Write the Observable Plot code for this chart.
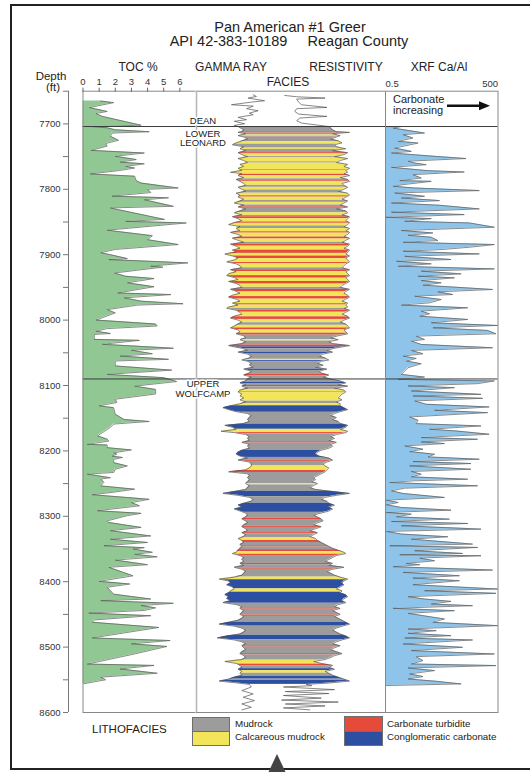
<!DOCTYPE html>
<html><head><meta charset="utf-8">
<script src="https://cdn.jsdelivr.net/npm/d3@7"></script>
<script src="https://cdn.jsdelivr.net/npm/@observablehq/plot@0.6"></script>
<style>
body{margin:0;background:#fff;width:530px;height:772px;overflow:hidden;position:relative;font-family:"Liberation Sans",Arial,sans-serif;color:#222}
.t{position:absolute;white-space:pre;line-height:1}
#frame{position:absolute;left:10px;top:4px;width:600px;height:766px;border:2.5px solid #222;box-sizing:border-box}
.box{position:absolute;box-sizing:border-box;border:1px solid #6f6f6f}
</style></head><body>
<div id="frame"></div>
<script>
// ---------- DATA ----------
const depthDomain = [7650, 8600];
const depthTicks = [7650,7700,7750,7800,7850,7900,7950,8000,8050,8100,8150,8200,8250,8300,8350,8400,8450,8500,8550,8600];
const depthLabels = ["7700","7800","7900","8000","8100","8200","8300","8400","8500","8600"];
const tocTicks = [0,1,2,3,4,5,6];
const tocDomain = [0, 7];
const xrfTicks = [0.5, 500];
const formationTops = [7704, 8090];   // Lower Leonard, Upper Wolfcamp
const faciesBase = 8557;

// TOC % [depth, value]
const toc = [[7665,1.1],[7667.5,1.9],[7675,0.4],[7681,1.5],[7684,0.8],[7688.5,1.2],[7702,3.6],[7704,0.5],[7706,1.5],[7709,2.0],[7712,4.1],[7714,1.8],[7719,1.7],[7725,2.2],[7730,1.4],[7734,1.5],[7740.5,0.5],[7744.5,3.8],[7749.5,2.0],[7754.5,3.3],[7758.5,2.3],[7761,3.8],[7765,2.65],[7767.5,3.2],[7771.5,2.2],[7776.5,0.45],[7780,3.2],[7787,3.3],[7790.5,3.6],[7798,5.9],[7800,4.0],[7805,4.2],[7810.5,1.8],[7813,5.3],[7816,3.8],[7826,5.6],[7828.5,1.7],[7833.5,2.65],[7846,5.05],[7849,2.65],[7851.5,6.4],[7862.5,1.5],[7871,4.3],[7877,4.0],[7884.5,5.9],[7892,2.0],[7897,1.1],[7900,1.7],[7906,2.75],[7907.5,1.6],[7912.5,6.5],[7917.5,4.2],[7919,4.95],[7928,1.95],[7933,2.65],[7936.5,4.4],[7943,2.75],[7949,4.4],[7958.5,2.15],[7961,5.45],[7966,2.55],[7971,3.6],[7975,6.2],[7977,3.4],[7984,1.5],[7989,2.0],[8000,0.8],[8006,4.5],[8009,4.6],[8013,1.5],[8017,0.8],[8020.5,1.7],[8022,0.7],[8029.5,0.7],[8031,3.5],[8037,1.2],[8043,5.6],[8046,3.0],[8051.5,4.3],[8055,2.3],[8060,5.3],[8062.5,2.0],[8070,2.0],[8076.5,5.5],[8083,1.5],[8088,5.0],[8094,5.8],[8101,3.2],[8106,4.5],[8113,4.5],[8121,2.0],[8126,2.1],[8131,1.0],[8134,1.9],[8144,2.0],[8152,2.55],[8155,4.1],[8159,1.9],[8164,1.7],[8177,0.9],[8182,1.5],[8185,1.6],[8190,0.26],[8191,1.5],[8195,1.5],[8198.5,3.0],[8203,1.9],[8205,2.1],[8208,1.8],[8210,2.45],[8213,1.9],[8218,1.9],[8223,2.75],[8228,2.0],[8233,1.9],[8235.5,0.26],[8241,1.7],[8243,1.1],[8248,1.3],[8253.5,1.1],[8258.5,3.2],[8263.5,1.8],[8267,0.57],[8274,4.1],[8279,3.0],[8284,3.5],[8291.5,0.9],[8295.5,3.6],[8299,2.75],[8307,1.5],[8309.5,1.6],[8317,3.6],[8322,1.7],[8330,4.2],[8335,1.7],[8340,4.0],[8345,1.3],[8348,3.8],[8350,3.1],[8355,4.3],[8358,3.2],[8362,4.6],[8367,2.0],[8374,4.0],[8378,1.6],[8391,3.1],[8399.5,1.0],[8403.5,2.9],[8408.5,1.5],[8419,1.9],[8426.5,4.2],[8429,1.1],[8433,5.6],[8436.5,3.6],[8440,4.5],[8444,3.8],[8448,0.36],[8452,4.2],[8458.5,0.7],[8462,0.57],[8470,4.7],[8486,0.57],[8490,5.4],[8495,3.0],[8499,5.2],[8510.5,3.2],[8526,0.26],[8528,4.4],[8533.5,2.3],[8540,4.6],[8546,1.1],[8550,1.4],[8556,0.05]];

// XRF Ca/Al [depth, ratio]
const xrf = [[7704,1.33],[7706.4,0.8],[7714,5.5],[7716.5,1.47],[7721.6,2.7],[7726.7,1.09],[7729.3,3.7],[7737,0.88],[7742,2.45],[7744.5,0.72],[7749.6,10.2],[7753,70],[7757,2.0],[7759.8,3.0],[7762.4,6.1],[7766.4,0.72],[7771.5,6.8],[7773.5,63],[7777.6,2.7],[7782.7,4.5],[7786.8,1.2],[7787.8,8.3],[7792.9,1.47],[7795.4,0.8],[7798,3.0],[7802,159],[7805.6,0.88],[7810.7,5.5],[7813.3,1.33],[7817.3,13.8],[7820.9,0.72],[7824.4,13.8],[7830,159],[7835,0.72],[7838.7,63],[7842.8,0.5],[7844.8,8.3],[7848.9,1.63],[7851.4,86],[7858,400],[7863,1.33],[7866.7,9.2],[7870.3,2.0],[7873.3,8.3],[7878.4,12.5],[7881,1.47],[7884.5,400],[7888.6,86],[7892.2,15.3],[7894.7,1.47],[7898.8,159],[7902.4,1.63],[7907.4,28],[7910,0.98],[7914,8.3],[7917.6,1.09],[7921.7,400],[7925.2,4.5],[7929.3,52],[7932.9,3.7],[7935.4,34.5],[7939.5,4.5],[7943,15.3],[7946.6,5.0],[7953.2,360],[7956.8,12.5],[7960.9,31],[7963.4,3.0],[7968.5,15.3],[7973.6,7.5],[7977.1,1.33],[7981.2,78],[7986.3,4.5],[7990.4,7.5],[7994,4.1],[7999,78],[8004.1,8.3],[8008.2,490],[8011.8,9.2],[8015.8,265],[8020.9,440],[8024.5,3.3],[8029.6,5.5],[8032.1,2.45],[8037.2,4.5],[8042.3,360],[8046.4,2.45],[8051.5,5.0],[8055,1.47],[8058.6,3.3],[8062.7,1.8],[8066.7,4.5],[8072.8,2.0],[8077.9,1.63],[8083,1.33],[8087.1,5.5],[8090.7,1.09],
[8093,400],[8097.2,143],[8100.7,2.0],[8103.3,34.5],[8108.4,2.45],[8113.5,176],[8116,2.7],[8119.6,195],[8123.6,3.0],[8128.7,6.1],[8132.8,290],[8137.9,10.2],[8141.5,265],[8148.1,2.2],[8153.2,3.7],[8158.3,3.3],[8161.8,176],[8166.9,7.5],[8169.5,38],[8174.5,290],[8179.6,4.5],[8182.2,143],[8186.2,4.5],[8188.8,18.7],[8192.4,1.63],[8197.4,5.0],[8201,2.2],[8205.1,10.2],[8209.2,6.8],[8212.7,159],[8216.3,2.7],[8219.3,95],[8222.9,2.2],[8228,95],[8231.5,2.45],[8235.6,4.5],[8239.7,2.45],[8243.3,78],[8245.8,2.7],[8248.3,0.65],[8253.4,143],[8257,1.63],[8261,0.72],[8265.1,1.47],[8271.2,18.7],[8275.3,0.53],[8278.9,1.09],[8282.4,0.53],[8286.5,1.33],[8290.6,28],[8294.2,0.53],[8296.7,2.45],[8300.8,0.98],[8304.3,25.4],[8307.9,0.72],[8311,78],[8314.5,1.33],[8319.6,176],[8323.2,0.53],[8327.2,1.33],[8331.3,23],[8334.9,2.45],[8342.5,105],[8345.1,0.65],[8347.6,143],[8352.7,3.0],[8356.8,57],[8358.8,1.2],[8360.3,176],[8363.9,4.1],[8368,10.2],[8372,1.8],[8374.1,4.1],[8377.1,0.8],[8382.2,360],[8385.8,1.47],[8390.9,47],[8394.4,2.7],[8398.5,47],[8404.6,2.7],[8411.2,490],[8413.8,5.5],[8417.8,440],[8422.9,2.0],[8426.5,5.5],[8430.1,28],[8434.1,8.3],[8436.7,105],[8440.7,0.8],[8444.3,34.5],[8448.4,2.0],[8451.9,5.0],[8457,18.7],[8462.1,9.2],[8467.2,490],[8472.3,2.0],[8474.9,11.3],[8478.9,2.0],[8482.5,28],[8486.1,1.63],[8489.1,105],[8495.2,1.47],[8500.3,57],[8505.4,2.45],[8510.5,400],[8514.6,3.3],[8520.7,5.0],[8525.8,2.45],[8528.3,440],[8531.9,2.0],[8535.9,10.2],[8541,2.2],[8545.1,5.0],[8548.7,2.0],[8552.3,11.3],[8556.3,52],[8558.8,0.53]];

// Gamma ray (left) and resistivity (right) curves, relative track position
const grTop = [[7655.5,30],[7658,31.7],[7660.5,27.3],[7664.6,36],[7666.7,29],[7670.7,18.5],[7672.8,30],[7676.8,26.5],[7679.9,32.6],[7683.5,28],[7686,30],[7690,22],[7693.6,26.5],[7696,20],[7699.7,25.5],[7702.3,20]];
const resTop = [[7656.5,46.7],[7658.5,53],[7660.5,68],[7662,53],[7666.7,54],[7670.7,55.5],[7674.8,69],[7676.8,53],[7680.9,52],[7685,54],[7688.5,69],[7691,54.7],[7695,53],[7698.7,55.5],[7702,64.4]];
// [depth, gamma ray, resistivity] through the facies interval
const faciesLog = [[7704,22,70],[7706,23,71],[7709,25,72],[7712,24,74],[7713,22,81],[7715,26,72],[7718,22,76],[7720,25,74],[7723,27,71],[7726,24,75],[7729,21,77],[7732,19,73],[7735,25,74],[7738,23,79],[7741,26,72],[7744,22,80],[7747,24,78],[7750,27,73],[7753,22,80],[7756,25,76],[7759,27,74],[7762,23,80],[7765,25,78],[7768,22,81],[7771,24,79],[7774,18,80],[7776,24,78],[7779,22,81],[7782,25,76],[7785,21,80],[7788,23,81],[7791,25,77],[7794,26,78],[7797,22,80],[7800,24,78],[7803,26,75],[7806,21,80],[7809,23,81],[7812,22,79],[7815,25,77],[7818,23,80],[7821,20,78],[7824,25,76],[7827,22,80],[7830,26,74],[7833,23,79],[7836,20,80],[7839,24,77],[7842,19,81],[7845,22,80],[7848,24,79],[7851,20,81],[7854,17,80],[7857,23,78],[7860,21,81],[7863,23,79],[7866,18,81],[7869,22,80],[7872,24,78],[7875,19,81],[7878,22,79],[7881,25,77],[7884,18,81],[7887,21,80],[7890,23,78],[7893,19,81],[7896,21,80],[7899,15,79],[7902,19,81],[7905,22,79],[7908,20,80],[7911,16,81],[7914,21,79],[7917,23,78],[7920,24,77],[7923,18,81],[7926,21,79],[7929,17,80],[7932,16,81],[7935,20,79],[7938,22,80],[7941,17,81],[7944,21,79],[7947,23,77],[7950,24,76],[7953,18,81],[7956,21,79],[7959,23,78],[7962,19,80],[7965,17,81],[7968,21,79],[7971,23,77],[7974,19,80],[7977,22,79],[7980,17,80],[7982,16,78],[7985,21,81],[7988,23,79],[7991,24,77],[7994,20,80],[7997,18,81],[8000,22,78],[8003,24,76],[8006,22,79],[8009,20,80],[8012,18,81],[8015,22,78],[8018,23,79],[8021,21,80],[8024,25,75],[8027,26,71],[8030,23,75],[8033,26,70],[8036,24,72],[8039,17,81],[8041,20,77],[8043,24,73],[8046,27,69],[8049,22,72],[8052,27,67],[8055,29,65],[8058,28,68],[8061,24,70],[8063,27,66],[8066,29,64],[8069,28,67],[8072,30,63],[8075,25,69],[8078,29,65],[8081,28,66],[8084,25,70],[8087,29,67],[8090,27,71],[8093,26,76],[8096,23,79],[8099,26,75],[8101,24,80],[8104,27,73],[8107,23,78],[8110,22,79],[8113,24,77],[8116,23,76],[8119,25,75],[8122,23,77],[8125,26,74],[8128,23,76],[8131,18,76],[8134,14,78],[8137,17,80],[8140,21,76],[8143,27,73],[8146,29,71],[8149,28,74],[8152,27,72],[8155,28,75],[8158,25,76],[8161,15,80],[8164,19,79],[8167,21,76],[8170,13,80],[8172,20,79],[8175,26,74],[8178,28,71],[8181,27,73],[8184,28,70],[8187,24,74],[8190,28,71],[8193,27,72],[8196,28,70],[8199,24,66],[8202,22,64],[8205,21,63],[8208,23,65],[8211,27,70],[8214,22,72],[8217,28,69],[8220,29,67],[8223,29,68],[8226,28,70],[8229,26,69],[8232,17,68],[8235,27,66],[8238,28,64],[8241,27,62],[8244,28,63],[8247,27,61],[8250,26,64],[8253,28,62],[8256,27,60],[8259,26,63],[8262,20,72],[8265,14,81],[8268,22,74],[8271,28,68],[8274,30,66],[8277,29,69],[8280,25,70],[8283,22,73],[8286,24,70],[8289,20,72],[8292,23,70],[8295,26,66],[8298,27,62],[8301,26,64],[8304,24,66],[8307,26,67],[8310,27,64],[8313,25,62],[8316,24,66],[8319,26,63],[8322,27,60],[8325,24,64],[8328,26,62],[8331,25,60],[8334,22,63],[8337,24,64],[8340,25,66],[8343,23,68],[8346,24,70],[8349,23,72],[8352,22,75],[8355,21,78],[8357,19,79],[8360,23,74],[8363,25,72],[8366,24,70],[8369,25,68],[8372,23,72],[8375,25,70],[8378,20,78],[8381,24,72],[8384,26,69],[8387,25,71],[8390,24,73],[8393,20,76],[8396,12,80],[8399,17,78],[8402,18,77],[8405,16,78],[8408,19,76],[8411,20,74],[8414,18,77],[8417,17,76],[8420,15,79],[8423,17,80],[8426,16,78],[8429,18,77],[8432,14,79],[8435,21,75],[8438,24,73],[8441,23,76],[8444,25,72],[8447,24,74],[8450,23,76],[8453,25,73],[8456,24,75],[8459,22,77],[8462,17,79],[8465,12,81],[8468,20,77],[8471,24,74],[8474,26,72],[8477,25,74],[8480,23,76],[8483,16,79],[8486,11,81],[8489,20,77],[8492,24,74],[8495,26,72],[8498,24,76],[8501,25,73],[8504,26,71],[8507,24,74],[8510,23,77],[8513,25,73],[8516,26,71],[8519,24,68],[8522,15,62],[8525,21,66],[8528,23,72],[8531,24,70],[8534,22,73],[8537,24,68],[8540,23,70],[8543,24,72],[8546,20,75],[8549,17,78],[8552,12,81],[8555,22,70],[8557,28,58]];
const grBase = [[8561,29],[8566.5,24],[8571.6,30],[8576.7,24.7],[8581.8,30.7],[8586.9,24],[8592,29],[8596,24]];
const resBase = [[8559,61],[8561,46],[8565,73],[8568,47],[8571,70],[8574,46],[8578,66],[8581,45],[8584,75],[8587,47],[8590,68],[8593,46],[8596,60]];

// facies beds: [top depth, code]
const faciesNames = ["Mudrock","Calcareous mudrock","Carbonate turbidite","Conglomeratic carbonate"];
const faciesCodes = ["M","C","T","G"];
const faciesColors = ["#9c9c9c","#f3e55a","#e64a3a","#2c4fa2"];
const beds = [[7704,"M"],[7712,"T"],[7714,"M"],[7717,"C"],[7719,"T"],[7720,"M"],[7727,"C"],[7731,"M"],[7737,"C"],[7739,"M"],[7744,"T"],[7746,"C"],[7750,"M"],[7752,"C"],[7758,"M"],[7760,"C"],[7770,"T"],[7771,"C"],[7777,"T"],[7779,"C"],[7784,"M"],[7787,"T"],[7788.5,"C"],[7794,"M"],[7797,"C"],[7801,"M"],[7806,"C"],[7810,"T"],[7812,"C"],[7817,"M"],[7820,"C"],[7824,"M"],[7827,"T"],[7829,"M"],[7836,"C"],[7840,"M"],[7842,"T"],[7845,"C"],[7850,"T"],[7852,"C"],[7856,"M"],[7860,"C"],[7865,"T"],[7867,"C"],[7873,"T"],[7876,"C"],[7881,"M"],[7884,"T"],[7887,"C"],[7893,"T"],[7898,"C"],[7902,"T"],[7906,"C"],[7912,"T"],[7914,"C"],[7920,"M"],[7923,"T"],[7926,"C"],[7932,"T"],[7936,"C"],[7941,"T"],[7945,"C"],[7950,"M"],[7953,"T"],[7957,"C"],[7964,"T"],[7968,"C"],[7975,"T"],[7977,"C"],[7982,"M"],[7985,"T"],[7988,"C"],[7995,"T"],[7999,"C"],[8004,"M"],[8008,"C"],[8012,"T"],[8015,"C"],[8020,"T"],[8023,"M"],[8030,"C"],[8032,"M"],[8038,"T"],[8041,"G"],[8044,"M"],[8049,"G"],[8052,"M"],[8060,"C"],[8062,"G"],[8064,"M"],[8075,"G"],[8077,"M"],[8083,"T"],[8085,"M"],[8095,"G"],[8097,"M"],[8100,"T"],[8102,"M"],[8106,"C"],[8110,"T"],[8111,"C"],[8124,"M"],[8128,"C"],[8131,"G"],[8141,"M"],[8159,"G"],[8167,"C"],[8172,"T"],[8174,"M"],[8186,"T"],[8188,"M"],[8199,"G"],[8210,"M"],[8214,"T"],[8216,"M"],[8223,"C"],[8230,"T"],[8233,"M"],[8250,"C"],[8252,"M"],[8262,"G"],[8270,"M"],[8280,"G"],[8294,"M"],[8303,"T"],[8305,"M"],[8315,"T"],[8317,"M"],[8325,"T"],[8327,"M"],[8333,"C"],[8337,"T"],[8340,"M"],[8345,"T"],[8347,"M"],[8351,"T"],[8354,"C"],[8358,"T"],[8360,"M"],[8372,"T"],[8374,"M"],[8379,"T"],[8381,"M"],[8393,"C"],[8397,"G"],[8411,"C"],[8416,"G"],[8433,"M"],[8440,"T"],[8442,"M"],[8451,"T"],[8453,"M"],[8462,"G"],[8468,"M"],[8482,"G"],[8489,"M"],[8498,"T"],[8500,"M"],[8510,"T"],[8512,"M"],[8520,"C"],[8526,"T"],[8529,"M"],[8533,"G"],[8536,"C"],[8540,"M"],[8545,"G"],[8549,"M"],[8551,"G"]];

// ---------- DERIVED TABLES ----------
const nameOf = new Map(faciesCodes.map((c, i) => [c, faciesNames[i]]));
const bedRows = beds.map((b, i) => ({top: b[0], bottom: i + 1 < beds.length ? beds[i + 1][0] : faciesBase, facies: nameOf.get(b[1])}));
const grColored = faciesLog.map(r => [r[0], r[1]]);
const resColored = faciesLog.map(r => [r[0], r[2]]);
const grCurve = grTop.concat(grColored, grBase);
const resCurve = resTop.concat(resColored, resBase);
const labelSet = new Set(depthLabels);

// ---------- LAYOUT ----------
const H = 730, MT = 90.7, MB = H - 712;
const FONT = "'Liberation Sans', Arial, sans-serif";
const baseStyle = {background: "transparent", overflow: "visible", fontFamily: FONT, fontSize: "9.5px", color: "#333"};
const Y = d => d[0], V = d => d[1];
const yScale = {domain: depthDomain, reverse: true};
const zoneText = {frameAnchor: "left", textAnchor: "middle", dx: 6.5, fontSize: 9.5, lineHeight: 1.02, fill: "#222", stroke: "white", strokeWidth: 3, paintOrder: "stroke"};

const plotA = Plot.plot({
  width: 196, height: H, marginLeft: 82.5, marginRight: 0.5, marginTop: MT, marginBottom: MB,
  x: {domain: tocDomain}, y: yScale,
  style: baseStyle,
  marks: [
    Plot.areaX(toc, {y: Y, x1: () => 0, x2: V, fill: "#90c793"}),
    Plot.lineX(toc, {y: Y, x: V, stroke: "#5a5a5a", strokeWidth: 0.7}),
    Plot.ruleY(formationTops, {stroke: "#3a3a3a", strokeWidth: 1}),
    Plot.ruleX([tocDomain[0]], {stroke: "#888"}),
    Plot.ruleY(depthDomain, {stroke: "#888"}),
    Plot.ruleX([tocDomain[0]], {dx: -14.5, stroke: "#777"}),
    Plot.axisY({anchor: "left", ticks: depthTicks, tickSize: 5, tickPadding: 3, dx: -14.5, stroke: "#777", fill: "#333", fontSize: 9.5, label: null,
      tickFormat: d => labelSet.has(String(d)) ? String(d) : ""}),
    Plot.axisX({anchor: "top", ticks: tocTicks, tickSize: 4, tickPadding: 2, stroke: "#666", fill: "#333", fontSize: 9.5, label: null, tickFormat: d => String(d)})
  ]
});

const plotB = Plot.plot({
  width: 189, height: H, marginLeft: 0, marginRight: 0, marginTop: MT, marginBottom: MB,
  x: {domain: [0, 100], axis: null}, y: {...yScale, axis: null},
  color: {domain: faciesNames, range: faciesColors},
  style: baseStyle,
  marks: [
    Plot.rect(bedRows, {x1: () => 1, x2: () => 99, y1: "top", y2: "bottom", fill: "facies"}),
    Plot.areaX(grColored, {y: Y, x1: () => 0, x2: V, fill: "white"}),
    Plot.areaX(resColored, {y: Y, x1: V, x2: () => 100, fill: "white"}),
    Plot.lineX(grCurve, {y: Y, x: V, stroke: "#555", strokeWidth: 0.7}),
    Plot.lineX(resCurve, {y: Y, x: V, stroke: "#555", strokeWidth: 0.7}),
    Plot.ruleY(formationTops, {stroke: "#3a3a3a", strokeWidth: 1}),
    Plot.ruleY(depthDomain, {stroke: "#888"}),
    Plot.ruleX([0], {stroke: "#b8b8b8", strokeWidth: 1.6}),
    Plot.text(["DEAN"], {...zoneText, y: () => formationTops[0], dy: -6}),
    Plot.text(["LOWER\nLEONARD"], {...zoneText, y: () => formationTops[0], dy: 12}),
    Plot.text(["UPPER\nWOLFCAMP"], {...zoneText, y: () => formationTops[1], dy: 10})
  ]
});

const plotC = Plot.plot({
  width: 113, height: H, marginLeft: 0, marginRight: 0.5, marginTop: MT, marginBottom: MB,
  x: {type: "log", domain: [xrfTicks[0], xrfTicks[1]], axis: null}, y: {...yScale, axis: null},
  style: baseStyle,
  marks: [
    Plot.areaX(xrf, {y: Y, x1: () => xrfTicks[0], x2: V, fill: "#8ec4ea"}),
    Plot.lineX(xrf, {y: Y, x: V, stroke: "#5a5a5a", strokeWidth: 0.7}),
    Plot.ruleY(formationTops, {stroke: "#3a3a3a", strokeWidth: 1}),
    Plot.frame({stroke: "#888"}),
    Plot.text([xrfTicks[0]], {x: d => d, frameAnchor: "top", textAnchor: "start", lineAnchor: "bottom", dy: -4, text: d => String(d), fontSize: 9.5, fill: "#333"}),
    Plot.text([xrfTicks[1]], {x: d => d, frameAnchor: "top", textAnchor: "end", lineAnchor: "bottom", dy: -4, text: d => String(d), fontSize: 9.5, fill: "#333"})
  ]
});

[[plotA, 0], [plotB, 195.5], [plotC, 384.5]].forEach(([svg, left]) => {
  svg.style.position = "absolute"; svg.style.left = left + "px"; svg.style.top = "0px";
  document.body.appendChild(svg);
});

// ---------- TEXT ----------
function addText(str, x, base, size, anchor) {
  const el = document.createElement("div");
  el.className = "t"; el.textContent = str;
  el.style.fontSize = size + "px";
  el.style.top = (base - 0.846 * size) + "px";
  el.style.left = x + "px";
  if (anchor === "middle") el.style.transform = "translateX(-50%)";
  document.body.appendChild(el);
}
addText("Pan American #1 Greer", 290, 32, 14.5, "middle");
addText("API 42-383-10189     Reagan County", 289, 46.5, 14.5, "middle");
addText("Depth", 51, 80.5, 11.5, "middle");
addText("(ft)", 53, 92, 11.5, "middle");
addText("TOC %", 138, 71, 12, "middle");
addText("GAMMA RAY", 231, 71, 12, "middle");
addText("RESISTIVITY", 346, 71, 12, "middle");
addText("XRF Ca/Al", 439, 71, 12, "middle");
addText("FACIES", 288, 86, 12, "middle");
addText("Carbonate", 393, 103.5, 11, "start");
addText("increasing", 393, 114, 11, "start");
addText("LITHOFACIES", 92, 734, 11.5, "start");
addText(faciesNames[0], 235, 727, 9.8, "start");
addText(faciesNames[1], 235, 740.5, 9.8, "start");
addText(faciesNames[2], 387, 727, 9.8, "start");
addText(faciesNames[3], 387, 740.5, 9.8, "start");

function addBox(x, y, w, h, color) {
  const el = document.createElement("div");
  el.className = "box";
  Object.assign(el.style, {left: x + "px", top: y + "px", width: w + "px", height: h + "px", background: color});
  document.body.appendChild(el);
}
addBox(192, 716.5, 38, 15, faciesColors[0]);
addBox(192, 731, 38, 15, faciesColors[1]);
addBox(344, 716, 39, 15.5, faciesColors[2]);
addBox(344, 731, 39, 15, faciesColors[3]);

// arrow and bottom marker
const ns = "http://www.w3.org/2000/svg";
const deco = document.createElementNS(ns, "svg");
deco.setAttribute("width", 530); deco.setAttribute("height", 772);
Object.assign(deco.style, {position: "absolute", left: 0, top: 0});
deco.innerHTML = '<line x1="447" y1="105.7" x2="481" y2="105.7" stroke="#111" stroke-width="2.6"/>' +
  '<polygon points="479,101.2 490,105.7 479,110.2" fill="#111"/>' +
  '<polygon points="277,754 268.5,772 285.5,772" fill="#444"/>';
document.body.appendChild(deco);
</script>
</body></html>
